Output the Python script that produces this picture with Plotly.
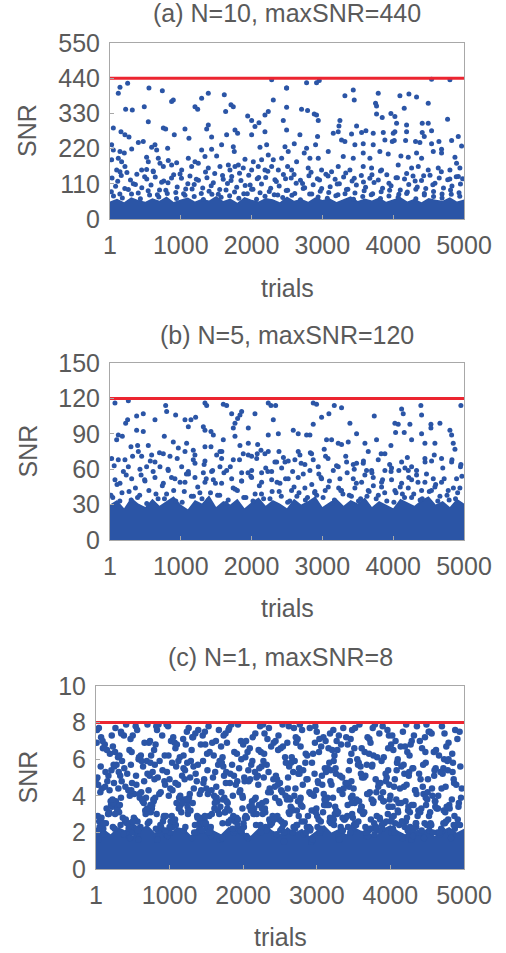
import plotly.graph_objects as go

# ---------------- data ----------------
max_snr = [440, 120, 8]
titles = ["(a) N=10, maxSNR=440", "(b) N=5, maxSNR=120", "(c) N=1, maxSNR=8"]
x_ticks = [1, 1000, 2000, 3000, 4000, 5000]
y_ticks_a = [0, 110, 220, 330, 440, 550]
y_ticks_b = [0, 30, 60, 90, 120, 150]
y_ticks_c = [0, 2, 4, 6, 8, 10]

band_x = [1] + list(range(100, 5001, 100))
band_a = [55, 63, 52, 68, 59, 54, 65, 57, 70, 53, 61, 67, 55, 63, 58, 72, 56, 64, 51, 69, 60, 55, 66, 62, 52,
          70, 57, 63, 54, 68, 59, 65, 53, 61, 71, 56, 64, 58, 67, 54, 62, 69, 55, 63, 52, 66, 60, 57, 68, 55, 61]
band_b = [30, 34, 27, 36, 31, 28, 35, 29, 33, 37, 30, 26, 34, 31, 38, 28, 33, 30, 35, 27, 32, 36, 29, 34, 31,
          27, 35, 30, 33, 37, 28, 32, 35, 29, 34, 31, 36, 28, 33, 30, 27, 35, 32, 29, 34, 37, 30, 33, 28, 35, 31]
band_c = [2.0, 2.2, 1.9, 2.3, 2.1, 1.8, 2.2, 2.4, 2.0, 2.1, 1.9, 2.3, 2.2, 1.8, 2.4, 2.0, 2.1, 1.9, 2.3, 2.2,
          2.0, 1.8, 2.2, 2.4, 2.1, 1.9, 2.3, 2.0, 2.2, 1.8, 2.1, 2.4, 2.0, 2.2, 1.9, 2.3, 2.1, 2.0, 1.8, 2.2,
          2.4, 2.1, 1.9, 2.3, 2.0, 2.2, 1.8, 2.1, 2.3, 2.0, 2.2]

a_trial = [142, 118, 250, 551, 740, 871, 895, 222, 316, 485, 542, 1201, 1239, 1295, 1389, 1615, 1709, 1742, 1634,
           2284, 2307, 2236, 2189, 1945, 2001, 2105, 2495, 2448, 48, 156, 212, 269, 754, 787, 1060, 909, 1389,
           1366, 1436, 1577, 1766, 1803, 1648, 2001, 2048, 2189, 2495, 401, 471, 636, 660, 815, 589, 1116, 1295,
           1436, 1742, 1756, 2119, 2213, 2472, 24, 48, 142, 203, 307, 24, 118, 165, 518, 542, 683, 707, 824, 942,
           1107, 1201, 1342, 1507, 1672, 1766, 1907, 2025, 2142, 2236, 2307, 2425, 95, 142, 212, 448, 518, 613,
           754, 871, 1013, 1154, 1248, 1389, 1554, 1695, 1813, 1883, 2001, 2095, 2189, 2284, 2378, 2509,
           2777, 2918, 2956, 2495, 3318, 3436, 3450, 3789, 3751, 3765, 4095, 4222, 4330, 4156, 4495, 4542, 4801,
           2495, 2706, 2791, 2885, 2918, 2942, 3248, 3234, 3483, 3765, 3845, 3968, 4024, 4048, 4189, 4410, 4495,
           4768, 2683, 2932, 3154, 3224, 3271, 3412, 3554, 3615, 3718, 3860, 4001, 4024, 4189, 4410, 4439, 4542,
           4646, 4825, 4919, 2603, 2777, 2904, 3318, 3459, 3577, 3718, 3883, 3987, 4015, 4175, 4316, 4377, 4542,
           4683, 4966, 2518, 2744, 2824, 2942, 3083, 3295, 3436, 3577, 3671, 3812, 3930, 4109, 4213, 4330, 4401,
           4566, 4683, 4872, 4895, 4942, 2565, 2636, 2800, 2989, 3130, 3224, 3389, 3577, 3695, 3836, 4071, 4260,
           4354, 4495, 4636, 4801,
           30, 160, 290, 380, 520, 640, 760, 900, 1010, 1130, 1250, 1370, 1480, 1600, 1720, 1850, 1960, 2080,
           2200, 2330, 2450, 2560, 2690, 2810, 2930, 3050, 3180, 3300, 3420, 3550, 3670, 3790, 3910, 4040, 4160,
           4280, 4400, 4520, 4650, 4770, 4890, 4980,
           80, 210, 330, 450, 580, 700, 820, 950, 1070, 1190, 1310, 1430, 1550, 1660, 1790, 1910, 2020, 2140,
           2270, 2390, 2510, 2630, 2750, 2870, 2990, 3110, 3240, 3360, 3480, 3610, 3730, 3850, 3970, 4100, 4220,
           4340, 4460, 4590, 4710, 4830, 4950,
           20, 140, 260, 400, 540, 670, 790, 930, 1040, 1160, 1290, 1400, 1530, 1640, 1760, 1890, 2000, 2120,
           2250, 2370, 2490, 2610, 2730, 2850, 2970, 3090, 3220, 3340, 3460, 3590, 3710, 3830, 3950, 4080, 4200,
           4320, 4440, 4570, 4690, 4810, 4930]
a_snr = [412, 393, 424, 409, 401, 367, 372, 343, 341, 351, 304, 351, 343, 377, 393, 388, 357, 351, 336,
         435, 372, 336, 325, 322, 308, 301, 409, 308, 284, 273, 263, 256, 284, 281, 281, 263, 294,
         281, 256, 232, 278, 268, 263, 263, 289, 273, 278, 239, 242, 232, 216, 221, 224, 252, 216,
         218, 226, 211, 224, 232, 226, 232, 216, 211, 206, 219, 185, 190, 179, 193, 179, 190, 174, 183, 176,
         190, 179, 195, 197, 169, 164, 187, 179, 185, 200, 185, 190, 153, 148, 164, 153, 155, 148,
         164, 169, 153, 164, 174, 159, 164, 153, 169, 159, 153, 164, 153, 164, 153, 164,
         426, 426, 433, 409, 385, 403, 372, 393, 362, 353, 385, 391, 381, 346, 362, 437, 435,
         349, 343, 339, 328, 325, 308, 308, 291, 291, 328, 317, 330, 320, 299, 294, 299, 299,
         312, 263, 258, 268, 273, 247, 266, 270, 276, 268, 270, 268, 273, 273, 270, 258, 276,
         242, 245, 258, 235, 221, 232, 242, 232, 235, 232, 247, 242, 245, 245, 242, 239, 235,
         218, 228, 211, 206, 190, 190, 211, 195, 190, 206, 190, 211, 203, 197, 193, 206, 190,
         211, 206, 193, 174, 159, 153, 179, 159, 153, 148, 164, 153, 164, 159, 153, 169, 159,
         164, 153, 159, 153,
         128, 136, 122, 140, 125, 131, 119, 138, 127, 134, 121, 129, 142, 124, 133, 120, 137, 126,
         130, 123, 139, 128, 121, 135, 126, 140, 124, 131, 119, 136, 127, 122, 138, 129, 125,
         134, 120, 137, 128, 123, 132, 126,
         102, 95, 110, 98, 106, 91, 113, 100, 94, 108, 97, 104, 92, 111, 99, 105, 93, 109,
         96, 103, 90, 112, 98, 107, 95, 101, 110, 93, 106, 99, 114, 96, 104, 91, 108,
         100, 95, 112, 97, 103, 109,
         85, 78, 92, 81, 88, 76, 90, 83, 79, 94, 80, 87, 77, 91, 84, 79, 93, 82,
         86, 75, 89, 80, 95, 78, 87, 83, 76, 92, 81, 88, 79, 85, 90, 77, 84,
         93, 80, 86, 78, 91, 82]
a_trial_2 = [50, 175, 305, 430, 560, 690, 810, 940, 1060, 1190, 1320, 1440, 1570, 1690, 1820, 1940, 2070, 2190,
             2320, 2440, 2570, 2690, 2820, 2940, 3070, 3190, 3320, 3440, 3570, 3690, 3820, 3940, 4070, 4190,
             4320, 4440, 4570, 4690, 4820, 4940,
             110, 240, 360, 490, 610, 730, 870, 990, 1100, 1220, 1350, 1460, 1590, 1710, 1830, 1980, 2100, 2230,
             2350, 2480, 2600, 2720, 2840, 2960, 3080, 3210, 3330, 3450, 3580, 3700, 3820, 3940, 4060, 4190,
             4310, 4430, 4560, 4680, 4800, 4920]
a_snr_2 = [72, 66, 78, 63, 75, 69, 80, 64, 74, 70, 61, 77, 68, 73, 65, 79, 62, 71,
           76, 67, 74, 60, 78, 69, 65, 73, 79, 62, 70, 76, 64, 72, 68, 80,
           63, 75, 70, 66, 77, 71,
           118, 145, 108, 132, 150, 115, 128, 141, 110, 124, 147, 113, 136, 120, 143, 106, 130, 149,
           117, 126, 139, 111, 146, 122, 134, 109, 144, 127, 116, 138, 150, 112, 129, 142,
           119, 135, 107, 148, 125, 133]

b_trial = [71, 260, 787, 801, 928, 1342, 1366, 1601, 1648, 2236, 2274, 2340, 1860, 1836, 1803, 1719, 2048,
           377, 471, 636, 1060, 1144, 1210, 250, 222, 2307, 1319, 1342, 1427, 1460, 1107, 377, 471, 1742, 1766,
           1954, 2378, 2236, 118, 95, 175, 768, 895, 1083, 1342, 1427, 1601, 1766, 1954, 2086, 297, 391, 401,
           448, 542, 966, 1060, 1177, 1554, 1836, 1883, 1954, 2133, 2236, 2387, 24, 118, 212, 589, 636, 754,
           848, 1177, 1201, 1342, 1507, 1577, 1742, 2001, 2072, 2189, 2354, 2472, 260, 424, 518, 707, 824,
           1013, 1107, 1319, 1436, 1554, 1648, 1860, 2001, 2142, 2284, 2425, 71, 142, 307, 495, 636, 754,
           918, 1060, 1201, 1342, 1460, 1577, 1719, 1860, 2001, 2142, 2284, 2401,
           2871, 2918, 3168, 3271, 4119, 4142, 4391, 4401, 4956, 2989, 3092, 2871, 3389, 3733, 4024, 4071,
           4236, 4533, 4660, 2589, 2659, 2777, 2824, 3483, 3765, 4034, 4156, 4401, 4533, 4801, 4825, 4848,
           3059, 3130, 3224, 3271, 3365, 3601, 3968, 4260, 4448, 4589, 4872, 2659, 2683, 2848, 2871, 3026,
           3045, 3648, 3883, 4448, 4542, 4683, 4825, 4956, 2518, 2612, 2753, 2824, 2942, 3154, 3224, 3342,
           3436, 3483, 3577, 3624, 3695, 3789, 3883, 3977, 4119, 4166, 4213, 4260, 4330, 2518, 2659, 2989,
           3248, 3436, 3554, 3718, 3836, 3977, 4119, 4260, 4448, 4566, 4683, 4895, 2565, 2753, 2895, 3083,
           3271, 3459, 3648, 3836, 4024, 4213, 4401, 4589, 4777, 4942,
           40, 170, 300, 420, 550, 680, 800, 930, 1050, 1180, 1300, 1420, 1550, 1670, 1800, 1920, 2050, 2170,
           2290, 2420, 2540, 2670, 2790, 2920, 3040, 3170, 3290, 3410, 3540, 3660, 3790, 3910, 4040, 4160,
           4290, 4410, 4540, 4660, 4790, 4910,
           100, 230, 360, 490, 610, 740, 870, 990, 1110, 1240, 1360, 1490, 1610, 1740, 1860, 1990, 2110, 2230,
           2360, 2480, 2600, 2730, 2850, 2980, 3100, 3230, 3350, 3480, 3600, 3720, 3850, 3970, 4100, 4220,
           4350, 4470, 4600, 4720, 4850, 4970]
b_snr = [116, 118, 114, 109, 106, 116, 114, 115, 114, 116, 114, 114, 109, 106, 103, 107, 107,
         105, 107, 102, 102, 102, 104, 102, 99, 102, 96, 93, 92, 89, 96, 93, 92, 95, 99,
         95, 90, 89, 89, 85, 88, 88, 83, 82, 79, 79, 85, 88, 82, 81, 79, 80, 75,
         71, 80, 78, 75, 76, 75, 80, 73, 72, 76, 75, 75, 69, 68, 68, 72, 66, 73,
         71, 68, 65, 67, 72, 69, 68, 71, 69, 73, 66, 66, 62, 60, 62, 62, 59,
         62, 58, 57, 58, 62, 59, 57, 59, 57, 58, 61, 51, 48, 52, 50, 53, 48,
         52, 49, 53, 49, 51, 48, 52, 50, 53, 49, 51, 48,
         116, 115, 114, 112, 111, 107, 114, 106, 114, 104, 107, 98, 99, 105, 99, 98,
         98, 98, 99, 93, 90, 89, 89, 90, 85, 91, 91, 90, 95, 93, 89, 82,
         85, 85, 82, 81, 83, 82, 80, 85, 82, 82, 77, 75, 72, 73, 68, 77,
         71, 75, 73, 69, 67, 69, 66, 64, 67, 68, 64, 59, 62, 59, 62, 66,
         64, 65, 65, 59, 59, 68, 59, 61, 66, 61, 59, 62, 59, 52, 53, 52,
         52, 52, 49, 53, 49, 51, 48, 51, 49, 52, 49, 52, 42, 44, 41, 45,
         42, 44, 42, 45, 42, 44, 42, 45, 42, 44,
         36, 40, 34, 38, 42, 35, 39, 33, 41, 37, 35, 40, 38, 34, 42, 36, 39, 35,
         41, 37, 33, 40, 36, 38, 42, 34, 39, 37, 35, 41, 38, 33, 40, 36,
         39, 35, 42, 37, 34, 40,
         47, 55, 44, 51, 58, 46, 53, 49, 56, 45, 52, 48, 57, 44, 50, 54, 46, 58,
         49, 52, 45, 56, 47, 53, 50, 44, 57, 48, 55, 46, 51, 58, 45, 53,
         49, 56, 47, 52, 44, 54]
b_trial_2 = [60, 190, 320, 440, 570, 700, 820, 950, 1080, 1200, 1330, 1450, 1580, 1700, 1830, 1950, 2080, 2200,
             2330, 2450, 2580, 2700, 2830, 2950, 3080, 3200, 3330, 3450, 3580, 3700, 3830, 3950, 4080, 4200,
             4330, 4450, 4580, 4700, 4830, 4950,
             15, 140, 270, 390, 520, 650, 770, 900, 1020, 1150, 1270, 1390, 1520, 1640, 1770, 1890, 2020, 2140,
             2260, 2390, 2510, 2640, 2760, 2890, 3010, 3140, 3260, 3380, 3510, 3630, 3760, 3880, 4010, 4130,
             4260, 4380, 4510, 4630, 4760, 4880]
b_snr_2 = [63, 58, 71, 55, 67, 74, 60, 69, 56, 72, 64, 59, 75, 62, 68, 57, 73, 61,
           66, 70, 58, 65, 74, 56, 69, 63, 71, 60, 67, 57, 73, 64, 59, 70,
           55, 66, 72, 61, 68, 62,
           38, 33, 41, 36, 31, 39, 35, 42, 32, 37, 40, 34, 38, 31, 43, 36, 33, 39,
           35, 41, 32, 37, 34, 40, 36, 31, 42, 38, 33, 37, 35, 40, 32, 39,
           36, 34, 41, 33, 38, 35]

c_trial = [15, 260, 470, 720, 980, 1190, 1450, 1700, 1930, 2210, 2440, 2690, 2950, 3180, 3420, 3690, 3910, 4170, 4430, 4700,
           120, 340, 610, 850, 1080, 1320, 1580, 1810, 2060, 2330, 2570, 2800, 3060, 3300, 3550, 3790, 4040, 4290, 4560, 4840,
           70, 300, 540, 790, 1020, 1260, 1510, 1760, 2000, 2270, 2510, 2740, 3000, 3240, 3480, 3730, 3980, 4230, 4490, 4760,
           190, 410, 660, 900, 1140, 1390, 1630, 1880, 2130, 2380, 2620, 2870, 3120, 3360, 3610, 3850, 4100, 4360, 4620, 4910,
           40, 230, 500, 750, 960, 1220, 1480, 1720, 1970, 2240, 2480, 2720, 2980, 3210, 3460, 3710, 3960, 4200, 4470, 4730,
           150, 380, 580, 830, 1100, 1350, 1600, 1840, 2090, 2350, 2600, 2850, 3090, 3330, 3580, 3820, 4070, 4320, 4590, 4880,
           90, 320, 560, 810, 1050, 1300, 1530, 1780, 2030, 2290, 2540, 2770, 3030, 3270, 3510, 3760, 4010, 4260, 4520, 4790,
           210, 440, 690, 930, 1170, 1410, 1660, 1900, 2160, 2410, 2650, 2900, 3150, 3390, 3640, 3880, 4130, 4390, 4650, 4950,
           30, 280, 520, 770, 1000, 1240, 1500, 1740, 1990, 2250, 2500, 2750, 2990, 3230, 3470, 3720, 3970, 4220, 4480, 4750,
           170, 400, 640, 880, 1120, 1370, 1620, 1860, 2110, 2360, 2610, 2860, 3110, 3350, 3600, 3840, 4090, 4340, 4600, 4860,
           60, 310, 490, 740, 1010, 1280, 1470, 1730, 1960, 2200, 2470, 2700, 2960, 3190, 3440, 3680, 3940, 4190, 4450, 4720,
           240, 460, 700, 940, 1190, 1430, 1680, 1920, 2180, 2430, 2680, 2920, 3170, 3410, 3660, 3900, 4150, 4410, 4680, 4970,
           5, 250, 480, 730, 990, 1210, 1460, 1710, 1950, 2220, 2460, 2710, 2970, 3200, 3450, 3700, 3950, 4180, 4440, 4710,
           130, 350, 620, 860, 1090, 1330, 1590, 1820, 2070, 2340, 2580, 2810, 3070, 3310, 3560, 3800, 4050, 4300, 4570, 4850,
           80, 330, 550, 800, 1040, 1290, 1520, 1770, 2020, 2280, 2530, 2760, 3020, 3260, 3500, 3750, 4000, 4250, 4510, 4780,
           220, 450, 680, 920, 1160, 1400, 1650, 1890, 2150, 2400, 2640, 2890, 3140, 3380, 3630, 3870, 4120, 4380, 4640, 4930,
           45, 270, 510, 760, 1030, 1230, 1490, 1750, 1980, 2260, 2490, 2730, 3010, 3220, 3490, 3740, 3990, 4210, 4500, 4740,
           180, 420, 650, 890, 1130, 1380, 1610, 1870, 2120, 2370, 2630, 2880, 3100, 3340, 3590, 3860, 4080, 4350, 4610, 4870,
           100, 290, 530, 780, 1060, 1250, 1540, 1790, 2010, 2300, 2520, 2780, 3040, 3250, 3520, 3770, 4020, 4240, 4530, 4800,
           200, 430, 670, 910, 1150, 1420, 1640, 1910, 2140, 2390, 2660, 2910, 3130, 3370, 3620, 3890, 4110, 4370, 4630, 4900,
           25, 275, 505, 745, 995, 1245, 1475, 1725, 1985, 2215, 2465, 2725, 2965, 3215, 3465, 3705, 3965, 4205, 4465, 4725,
           145, 365, 595, 845, 1095, 1345, 1575, 1835, 2085, 2325, 2595, 2835, 3085, 3325, 3575, 3815, 4065, 4315, 4575, 4835,
           85, 315, 565, 785, 1045, 1265, 1525, 1785, 2025, 2265, 2525, 2785, 3025, 3265, 3505, 3765, 4015, 4265, 4525, 4765,
           205, 445, 675, 925, 1175, 1405, 1655, 1895, 2155, 2395, 2645, 2895, 3145, 3395, 3645, 3885, 4145, 4395, 4645, 4915,
           55, 295, 525, 765, 1015, 1255, 1505, 1745, 2005, 2255, 2505, 2745, 3005, 3245, 3495, 3745, 4005, 4245, 4495, 4745,
           165, 395, 625, 875, 1125, 1365, 1615, 1865, 2105, 2355, 2615, 2865, 3115, 3355, 3605, 3855, 4105, 4345, 4605, 4875,
           110, 335, 575, 815, 1065, 1305, 1555, 1795, 2045, 2305, 2555, 2795, 3045, 3295, 3535, 3785, 4035, 4285, 4545, 4815,
           230, 465, 705, 955, 1195, 1435, 1685, 1935, 2175, 2425, 2675, 2925, 3175, 3425, 3675, 3915, 4165, 4425, 4675, 4945,
           35, 255, 495, 725, 975, 1215, 1465, 1715, 1965, 2235, 2455, 2705, 2945, 3195, 3455, 3695, 3945, 4195, 4455, 4705,
           135, 375, 605, 835, 1085, 1335, 1565, 1805, 2065, 2315, 2565, 2825, 3065, 3305, 3565, 3805, 4055, 4305, 4555, 4825]
c_snr = [7.6, 6.4, 7.1, 6.9, 7.8, 6.2, 7.3, 6.7, 7.9, 6.5, 7.0, 7.7, 6.3, 7.4, 6.8, 7.2, 6.1, 7.5, 6.6, 7.8,
         6.8, 7.5, 6.2, 7.9, 6.6, 7.2, 6.9, 7.7, 6.4, 7.1, 6.1, 7.6, 6.7, 7.3, 6.0, 7.9, 6.5, 7.0, 7.4, 6.3,
         7.2, 6.1, 7.8, 6.5, 7.0, 7.7, 6.3, 7.4, 6.8, 7.9, 6.6, 7.1, 7.5, 6.2, 7.6, 6.9, 7.3, 6.4, 7.9, 6.7,
         6.3, 7.9, 6.9, 7.3, 6.1, 7.6, 7.0, 6.4, 7.2, 6.7, 7.8, 6.2, 7.0, 7.7, 6.6, 7.4, 6.0, 7.8, 6.5, 7.1,
         7.7, 6.7, 7.3, 6.2, 7.9, 6.8, 7.5, 6.1, 7.0, 6.4, 7.3, 6.9, 7.8, 6.5, 7.1, 6.3, 7.6, 6.7, 7.2, 6.0,
         6.5, 7.3, 6.0, 7.6, 6.8, 7.4, 6.2, 7.9, 6.6, 7.7, 6.9, 6.3, 7.2, 6.8, 7.9, 6.1, 7.0, 7.3, 6.4, 7.6,
         7.0, 6.2, 7.6, 6.8, 7.2, 6.5, 7.8, 6.9, 6.1, 7.4, 6.7, 7.9, 6.4, 7.0, 6.6, 7.7, 6.8, 6.2, 7.5, 6.9,
         5.4, 4.3, 5.9, 4.8, 5.1, 4.1, 5.7, 4.6, 5.3, 4.9, 5.8, 4.2, 5.5, 4.7, 5.0, 5.9, 4.4, 5.2, 4.0, 5.6,
         4.6, 5.7, 4.1, 5.3, 4.9, 5.8, 4.4, 5.1, 4.0, 5.6, 4.7, 5.2, 4.3, 5.9, 4.8, 4.2, 5.4, 4.6, 5.8, 4.5,
         5.1, 4.5, 5.6, 4.2, 5.9, 4.8, 5.3, 4.0, 5.7, 4.4, 5.0, 4.9, 5.5, 4.1, 5.2, 4.7, 5.8, 4.3, 5.4, 4.9,
         4.2, 5.3, 4.7, 5.8, 4.4, 5.0, 4.9, 5.6, 4.3, 5.1, 4.6, 5.9, 4.0, 5.4, 4.5, 5.7, 4.8, 5.2, 4.1, 5.5,
         5.7, 4.0, 5.2, 4.6, 5.5, 4.3, 5.9, 4.8, 5.0, 4.5, 5.3, 4.1, 5.8, 4.7, 5.1, 4.2, 5.6, 4.9, 5.3, 4.4,
         4.9, 5.6, 4.3, 5.1, 4.0, 5.4, 4.7, 5.8, 4.2, 5.5, 4.9, 4.4, 5.2, 4.6, 5.9, 4.1, 5.0, 5.7, 4.5, 5.2,
         5.3, 4.8, 5.9, 4.1, 5.6, 4.4, 5.0, 4.7, 5.4, 4.2, 5.8, 4.6, 5.1, 4.3, 5.7, 4.9, 4.5, 5.5, 4.0, 5.8,
         4.4, 5.1, 4.6, 5.7, 4.3, 5.9, 4.1, 5.3, 4.8, 5.0, 4.2, 5.5, 4.7, 5.2, 4.4, 5.6, 4.0, 5.1, 4.9, 5.4,
         3.4, 2.3, 3.9, 2.8, 3.1, 2.1, 3.7, 2.6, 3.3, 2.9, 3.8, 2.2, 3.5, 2.7, 3.0, 3.9, 2.4, 3.2, 2.0, 3.6,
         2.6, 3.7, 2.1, 3.3, 2.9, 3.8, 2.4, 3.1, 2.0, 3.6, 2.7, 3.2, 2.3, 3.9, 2.8, 2.2, 3.4, 2.6, 3.8, 2.5,
         3.1, 2.5, 3.6, 2.2, 3.9, 2.8, 3.3, 2.0, 3.7, 2.4, 3.0, 2.9, 3.5, 2.1, 3.2, 2.7, 3.8, 2.3, 3.4, 2.9,
         2.2, 3.3, 2.7, 3.8, 2.4, 3.0, 2.9, 3.6, 2.3, 3.1, 2.6, 3.9, 2.0, 3.4, 2.5, 3.7, 2.8, 3.2, 2.1, 3.5,
         3.7, 2.0, 3.2, 2.6, 3.5, 2.3, 3.9, 2.8, 3.0, 2.5, 3.3, 2.1, 3.8, 2.7, 3.1, 2.2, 3.6, 2.9, 3.3, 2.4,
         2.9, 3.6, 2.3, 3.1, 2.0, 3.4, 2.7, 3.8, 2.2, 3.5, 2.9, 2.4, 3.2, 2.6, 3.9, 2.1, 3.0, 3.7, 2.5, 3.2,
         3.3, 2.8, 3.9, 2.1, 3.6, 2.4, 3.0, 2.7, 3.4, 2.2, 3.8, 2.6, 3.1, 2.3, 3.7, 2.9, 2.5, 3.5, 2.0, 3.8,
         2.4, 3.1, 2.6, 3.7, 2.3, 3.9, 2.1, 3.3, 2.8, 3.0, 2.2, 3.5, 2.7, 3.2, 2.4, 3.6, 2.0, 3.1, 2.9, 3.4,
         3.5, 2.2, 3.0, 2.9, 3.7, 2.5, 3.2, 2.1, 3.8, 2.6, 3.4, 2.3, 3.9, 2.8, 3.1, 2.4, 3.6, 2.0, 3.3, 2.7,
         2.7, 3.4, 2.0, 3.5, 2.6, 3.2, 2.3, 3.9, 2.5, 3.3, 2.1, 3.7, 2.9, 3.0, 2.2, 3.8, 2.6, 3.4, 2.4, 3.1,
         3.0, 2.6, 3.8, 2.4, 3.3, 2.0, 3.6, 2.9, 3.2, 2.7, 3.9, 2.3, 3.5, 2.1, 3.4, 2.8, 3.1, 2.5, 3.7, 2.2,
         1.9, 2.4, 1.6, 2.2, 2.6, 1.7, 2.1, 2.5, 1.8, 2.3, 1.5, 2.6, 2.0, 1.7, 2.4, 1.9, 2.2, 1.6, 2.5, 2.0,
         2.3, 1.7, 2.5, 1.9, 2.1, 2.6, 1.6, 2.2, 2.4, 1.8, 2.0, 1.5, 2.6, 2.3, 1.8, 2.5, 1.7, 2.1, 1.9, 2.4,
         1.6, 2.2, 2.0, 2.6, 1.8, 2.3, 2.5, 1.7, 2.1, 2.4, 1.9, 2.2, 1.6, 2.5, 2.0, 1.8, 2.6, 2.3, 1.7, 2.1,
         2.5, 1.9, 2.3, 1.6, 2.4, 2.0, 1.8, 2.6, 1.7, 2.1, 2.5, 1.9, 2.2, 1.6, 2.6, 2.3, 2.0, 1.8, 2.4, 1.7]
c_trial_2 = [95, 345, 585, 820, 1070, 1310, 1545, 1800, 2040, 2285, 2535, 2780, 3035, 3280, 3520, 3770, 4025, 4275, 4535, 4790,
             215, 455, 700, 935, 1185, 1425, 1670, 1915, 2165, 2415, 2660, 2905, 3160, 3400, 3650, 3895, 4140, 4400, 4660, 4940,
             10, 265, 485, 735, 985, 1235, 1485, 1735, 1975, 2230, 2475, 2715, 2975, 3225, 3470, 3715, 3970, 4215, 4475, 4735,
             155, 385, 615, 865, 1115, 1355, 1605, 1850, 2095, 2345, 2605, 2845, 3095, 3345, 3595, 3835, 4085, 4335, 4595, 4865,
             65, 305, 545, 795, 1035, 1275, 1515, 1765, 2015, 2275, 2515, 2765, 3015, 3255, 3485, 3755, 3985, 4255, 4505, 4775,
             185, 425, 655, 905, 1145, 1385, 1635, 1875, 2125, 2375, 2625, 2875, 3125, 3365, 3615, 3865, 4095, 4355, 4615, 4895,
             20, 245, 475, 715, 965, 1205, 1455, 1705, 1945, 2205, 2445, 2695, 2935, 3185, 3435, 3685, 3935, 4185, 4445, 4695,
             125, 355, 590, 840, 1080, 1325, 1570, 1825, 2075, 2320, 2575, 2815, 3075, 3315, 3570, 3810, 4060, 4310, 4565, 4845,
             75, 325, 555, 805, 1055, 1285, 1535, 1775, 2035, 2295, 2545, 2775, 3040, 3275, 3515, 3780, 4030, 4270, 4540, 4785,
             235, 470, 710, 950, 1200, 1440, 1690, 1930, 2185, 2435, 2685, 2930, 3180, 3420, 3670, 3910, 4160, 4420, 4690, 4960,
             50, 290, 515, 755, 1005, 1250, 1495, 1755, 1995, 2245, 2495, 2755, 2995, 3235, 3480, 3735, 3990, 4235, 4485, 4755,
             175, 405, 635, 885, 1135, 1375, 1625, 1855, 2115, 2365, 2620, 2855, 3105, 3350, 3610, 3845, 4100, 4350, 4610, 4860,
             105, 340, 570, 825, 1075, 1315, 1560, 1815, 2050, 2310, 2560, 2805, 3055, 3290, 3540, 3795, 4045, 4290, 4550, 4805,
             225, 460, 695, 945, 1180, 1415, 1675, 1925, 2170, 2420, 2670, 2915, 3165, 3415, 3660, 3905, 4155, 4405, 4670, 4925,
             30, 260, 500, 740, 1000, 1240, 1480, 1720, 1990, 2240, 2485, 2735, 2985, 3230, 3475, 3725, 3975, 4225, 4480, 4720]
c_snr_2 = [6.6, 7.4, 6.1, 7.8, 6.9, 7.2, 6.4, 7.6, 7.0, 6.3, 7.9, 6.7, 7.1, 6.5, 7.7, 6.2, 7.3, 6.8, 7.5, 6.0,
           7.3, 6.5, 7.9, 6.2, 7.1, 6.8, 7.6, 6.3, 7.4, 6.9, 6.1, 7.7, 6.6, 7.2, 6.4, 7.8, 6.7, 7.0, 6.2, 7.5,
           6.9, 7.7, 6.4, 7.0, 6.2, 7.5, 6.8, 7.3, 6.0, 7.8, 6.5, 7.2, 6.9, 7.6, 6.3, 7.1, 6.6, 7.9, 6.4, 7.4,
           4.8, 5.5, 4.2, 5.9, 4.6, 5.2, 4.0, 5.7, 4.9, 5.3, 4.4, 5.8, 4.1, 5.0, 5.6, 4.5, 5.4, 4.3, 5.1, 4.7,
           5.6, 4.4, 5.1, 4.9, 5.8, 4.1, 5.4, 4.7, 5.0, 5.9, 4.3, 5.2, 4.8, 5.5, 4.0, 5.7, 4.6, 5.3, 4.2, 5.9,
           4.3, 5.2, 4.8, 5.4, 4.0, 5.7, 4.5, 5.1, 5.9, 4.2, 5.6, 4.9, 5.3, 4.4, 5.0, 4.7, 5.8, 4.1, 5.5, 4.6,
           5.0, 4.7, 5.7, 4.3, 5.3, 4.9, 5.9, 4.2, 5.5, 4.6, 5.1, 4.0, 5.8, 4.8, 5.4, 4.1, 5.2, 4.5, 5.7, 4.4,
           4.5, 5.9, 4.1, 5.0, 4.7, 5.6, 4.3, 5.2, 4.8, 5.7, 4.0, 5.4, 4.6, 5.1, 5.8, 4.2, 4.9, 5.5, 4.4, 5.3,
           2.8, 3.5, 2.2, 3.9, 2.6, 3.2, 2.0, 3.7, 2.9, 3.3, 2.4, 3.8, 2.1, 3.0, 3.6, 2.5, 3.4, 2.3, 3.1, 2.7,
           3.6, 2.4, 3.1, 2.9, 3.8, 2.1, 3.4, 2.7, 3.0, 3.9, 2.3, 3.2, 2.8, 3.5, 2.0, 3.7, 2.6, 3.3, 2.2, 3.9,
           2.3, 3.2, 2.8, 3.4, 2.0, 3.7, 2.5, 3.1, 3.9, 2.2, 3.6, 2.9, 3.3, 2.4, 3.0, 2.7, 3.8, 2.1, 3.5, 2.6,
           3.0, 2.7, 3.7, 2.3, 3.3, 2.9, 3.9, 2.2, 3.5, 2.6, 3.1, 2.0, 3.8, 2.8, 3.4, 2.1, 3.2, 2.5, 3.7, 2.4,
           2.5, 3.9, 2.1, 3.0, 2.7, 3.6, 2.3, 3.2, 2.8, 3.7, 2.0, 3.4, 2.6, 3.1, 3.8, 2.2, 2.9, 3.5, 2.4, 3.3,
           3.8, 2.5, 3.3, 2.1, 3.6, 2.8, 3.0, 2.4, 3.9, 2.7, 3.2, 2.2, 3.5, 2.9, 2.3, 3.7, 2.6, 3.1, 2.0, 3.4,
           2.1, 3.0, 2.6, 3.5, 2.3, 3.8, 2.9, 2.5, 3.3, 2.0, 3.7, 2.4, 3.1, 2.7, 3.6, 2.2, 3.4, 2.8, 3.9, 2.5]

# ---------------- styling ----------------
W, H = 506, 953
BLUE = "#2B55A6"
RED = "#EC2530"
GREY_TXT = "#5A5A5A"
FRAME = "#A8A8A8"
FONT = "Liberation Sans, Arial, sans-serif"
FS = 25


def px_x(v):
    return v / W


def px_y(v):
    return 1 - v / H


panels = [
    dict(xs=a_trial + a_trial_2, ys=a_snr + a_snr_2, band=band_a, yt=y_ticks_a, yr=[0, 550],
         l=110, r=464, t=43, b=219, title_y=13, trials_y=288, ms=5),
    dict(xs=b_trial + b_trial_2, ys=b_snr + b_snr_2, band=band_b, yt=y_ticks_b, yr=[0, 150],
         l=110, r=464, t=363, b=540, title_y=335, trials_y=608, ms=5),
    dict(xs=c_trial + c_trial_2, ys=c_snr + c_snr_2, band=band_c, yt=y_ticks_c, yr=[0, 10],
         l=96, r=464, t=686, b=869, title_y=657, trials_y=937, ms=6.5),
]

fig = go.Figure()
annotations = []
for i, p in enumerate(panels):
    k = "" if i == 0 else str(i + 1)
    xa, ya = "x" + k, "y" + k
    fig.add_trace(go.Scatter(x=band_x, y=p["band"], xaxis=xa, yaxis=ya, mode="lines",
                             line=dict(width=0, color=BLUE), fill="tozeroy", fillcolor=BLUE,
                             hoverinfo="skip", showlegend=False))
    fig.add_trace(go.Scatter(x=p["xs"], y=p["ys"], xaxis=xa, yaxis=ya, mode="markers",
                             marker=dict(size=p["ms"], color=BLUE, line=dict(width=0)), showlegend=False))
    fig.add_trace(go.Scatter(x=[x_ticks[0], x_ticks[-1]], y=[max_snr[i], max_snr[i]], xaxis=xa, yaxis=ya,
                             mode="lines", line=dict(color=RED, width=3), showlegend=False))
    common = dict(showline=True, mirror=True, linecolor=FRAME, linewidth=1, showgrid=False, zeroline=False,
                  ticks="inside", ticklen=4, tickcolor=FRAME, automargin=False,
                  tickfont=dict(size=FS, color=GREY_TXT, family=FONT), ticklabelstandoff=4)
    fig.update_layout(**{
        "xaxis" + k: dict(domain=[px_x(p["l"]), px_x(p["r"])], range=[1, 5000], tickvals=x_ticks,
                          ticktext=[str(v) for v in x_ticks], anchor=ya, **common),
        "yaxis" + k: dict(domain=[px_y(p["b"]), px_y(p["t"])], range=p["yr"], tickvals=p["yt"],
                          ticktext=[str(v) for v in p["yt"]], anchor=xa, **common),
    })
    cx = px_x((p["l"] + p["r"]) / 2)
    annotations.append(dict(text=titles[i], x=cx, y=px_y(p["title_y"]), xref="paper", yref="paper",
                            showarrow=False, xanchor="center", yanchor="middle",
                            font=dict(size=FS, color=GREY_TXT, family=FONT)))
    annotations.append(dict(text="trials", x=cx, y=px_y(p["trials_y"]), xref="paper", yref="paper",
                            showarrow=False, xanchor="center", yanchor="middle",
                            font=dict(size=FS, color=GREY_TXT, family=FONT)))
    annotations.append(dict(text="SNR", x=px_x(27), y=px_y((p["t"] + p["b"]) / 2), xref="paper", yref="paper",
                            showarrow=False, xanchor="center", yanchor="middle", textangle=-90,
                            font=dict(size=FS, color=GREY_TXT, family=FONT)))

fig.update_layout(width=W, height=H, margin=dict(l=0, r=0, t=0, b=0, autoexpand=False), paper_bgcolor="white",
                  plot_bgcolor="white", annotations=annotations, showlegend=False)
# remove the page's default 8 px body margin so the figure fills the window exactly
fig.write_html("out.html", config={"displayModeBar": False},
               post_script="document.body.style.margin='0';document.body.style.overflow='hidden';")
